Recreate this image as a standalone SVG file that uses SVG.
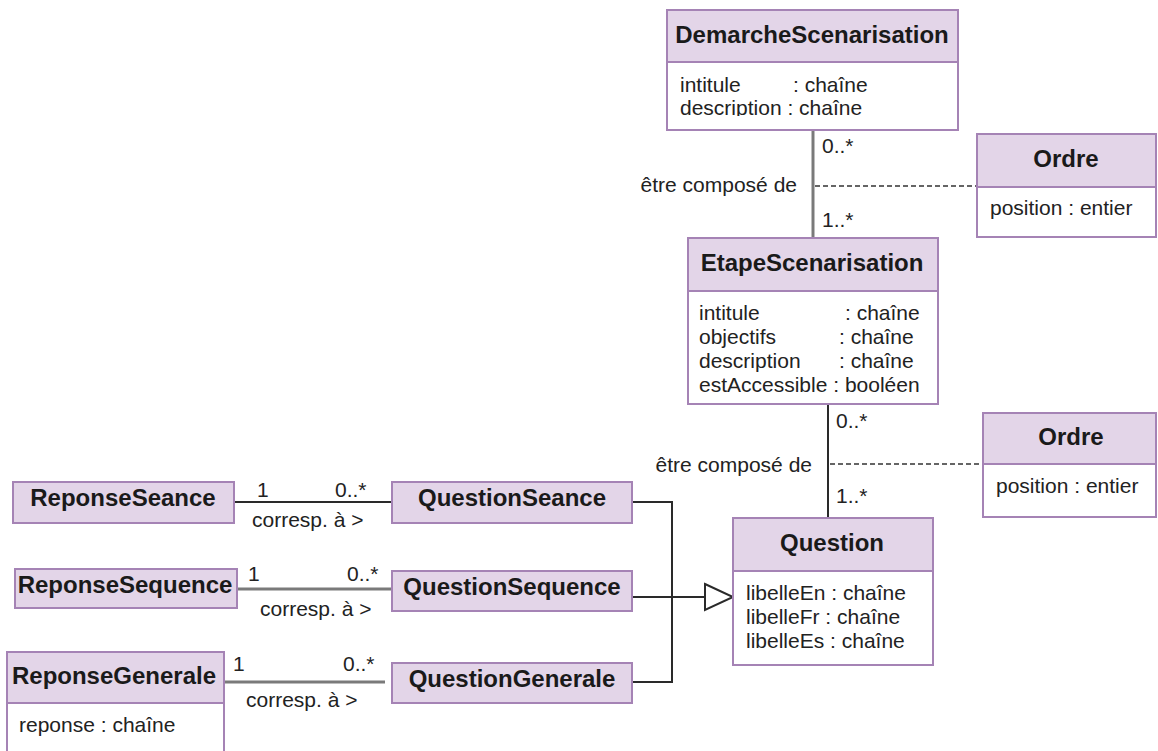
<svg xmlns="http://www.w3.org/2000/svg" width="1158" height="751" viewBox="0 0 1158 751">
<style>
.hd{fill:#e3d5e8;stroke:#a583b5;stroke-width:2}
.bd{fill:#ffffff;stroke:#a583b5;stroke-width:2}
.t{font-family:"Liberation Sans",Arial,sans-serif;font-weight:bold;font-size:24px;fill:#1a1a1a;text-anchor:middle}
.a{font-family:"Liberation Sans",Arial,sans-serif;font-size:21px;fill:#222}
.m{font-family:"Liberation Sans",Arial,sans-serif;font-size:21px;fill:#222}
.dk{stroke:#2a2a2a;stroke-width:2;fill:none}
.gr{stroke:#7a7a7a;stroke-width:3;fill:none}
.ds{stroke:#333;stroke-width:1.6;stroke-dasharray:5,3;fill:none}
</style>
<defs>
<clipPath id="clipDesc"><rect x="670" y="95" width="280" height="21"/></clipPath>
</defs>
<rect width="1158" height="751" fill="#ffffff"/>
<g id="connectors">
<line class="gr" x1="813" y1="130" x2="813" y2="238"/>
<line class="ds" x1="815" y1="186" x2="977" y2="186"/>
<text class="m" x="822" y="153">0..*</text>
<text class="m" x="822" y="227">1..*</text>
<text class="m" x="797" y="192" text-anchor="end">être composé de</text>
<line class="dk" x1="828" y1="404" x2="828" y2="518"/>
<line class="ds" x1="830" y1="464" x2="983" y2="464"/>
<text class="m" x="836" y="428">0..*</text>
<text class="m" x="836" y="503">1..*</text>
<text class="m" x="812" y="472" text-anchor="end">être composé de</text>
<line class="dk" x1="234" y1="502" x2="392" y2="502"/>
<text class="m" x="257" y="497">1</text>
<text class="m" x="335" y="497">0..*</text>
<text class="m" x="252" y="527">corresp. à &gt;</text>
<line class="gr" x1="237" y1="589" x2="392" y2="589"/>
<text class="m" x="248" y="581">1</text>
<text class="m" x="347" y="581">0..*</text>
<text class="m" x="260" y="616">corresp. à &gt;</text>
<line class="gr" x1="224" y1="682" x2="385" y2="682"/>
<text class="m" x="233" y="671">1</text>
<text class="m" x="343" y="671">0..*</text>
<text class="m" x="246" y="707">corresp. à &gt;</text>
<polyline class="dk" points="632,502 672,502 672,682 632,682"/>
<line class="dk" x1="632" y1="597" x2="705" y2="597"/>
<polygon points="705,584 733,597 705,610" fill="#ffffff" stroke="#2a2a2a" stroke-width="2"/>
</g>
<g id="DemarcheScenarisation">
<rect class="bd" x="667" y="10" width="291" height="120"/>
<rect class="hd" x="667" y="10" width="291" height="52"/>
<text class="t" x="812" y="43">DemarcheScenarisation</text>
<text class="a" x="680" y="92">intitule</text>
<text class="a" x="793" y="92">: chaîne</text>
<text class="a" x="680" y="115" clip-path="url(#clipDesc)">description : chaîne</text>
</g>
<g id="Ordre1">
<rect class="bd" x="977" y="134" width="179" height="103"/>
<rect class="hd" x="977" y="134" width="179" height="53"/>
<text class="t" x="1066" y="167">Ordre</text>
<text class="a" x="990" y="215">position : entier</text>
</g>
<g id="EtapeScenarisation">
<rect class="bd" x="688" y="238" width="250" height="166"/>
<rect class="hd" x="688" y="238" width="250" height="53"/>
<text class="t" x="812" y="271">EtapeScenarisation</text>
<text class="a" x="699" y="320">intitule</text>
<text class="a" x="845" y="320">: chaîne</text>
<text class="a" x="699" y="344">objectifs</text>
<text class="a" x="839" y="344">: chaîne</text>
<text class="a" x="699" y="368">description</text>
<text class="a" x="839" y="368">: chaîne</text>
<text class="a" x="699" y="392">estAccessible : booléen</text>
</g>
<g id="Ordre2">
<rect class="bd" x="983" y="413" width="173" height="104"/>
<rect class="hd" x="983" y="413" width="173" height="51"/>
<text class="t" x="1071" y="445">Ordre</text>
<text class="a" x="996" y="493">position : entier</text>
</g>
<g id="Question">
<rect class="bd" x="733" y="518" width="200" height="147"/>
<rect class="hd" x="733" y="518" width="200" height="53"/>
<text class="t" x="832" y="551">Question</text>
<text class="a" x="746" y="600">libelleEn : chaîne</text>
<text class="a" x="746" y="624">libelleFr : chaîne</text>
<text class="a" x="746" y="648">libelleEs : chaîne</text>
</g>
<g id="QuestionSeance">
<rect class="hd" x="392" y="482" width="240" height="41"/>
<text class="t" x="512" y="506">QuestionSeance</text>
</g>
<g id="QuestionSequence">
<rect class="hd" x="392" y="571" width="240" height="40"/>
<text class="t" x="512" y="595">QuestionSequence</text>
</g>
<g id="QuestionGenerale">
<rect class="hd" x="392" y="663" width="240" height="40"/>
<text class="t" x="512" y="687">QuestionGenerale</text>
</g>
<g id="ReponseSeance">
<rect class="hd" x="13" y="482" width="221" height="41"/>
<text class="t" x="123" y="506">ReponseSeance</text>
</g>
<g id="ReponseSequence">
<rect class="hd" x="15" y="569" width="222" height="39"/>
<text class="t" x="125" y="593">ReponseSequence</text>
</g>
<g id="ReponseGenerale">
<rect class="bd" x="7" y="652" width="217" height="110"/>
<rect class="hd" x="7" y="652" width="217" height="51"/>
<text class="t" x="114" y="684">ReponseGenerale</text>
<text class="a" x="19" y="732">reponse : chaîne</text>
</g>
</svg>
